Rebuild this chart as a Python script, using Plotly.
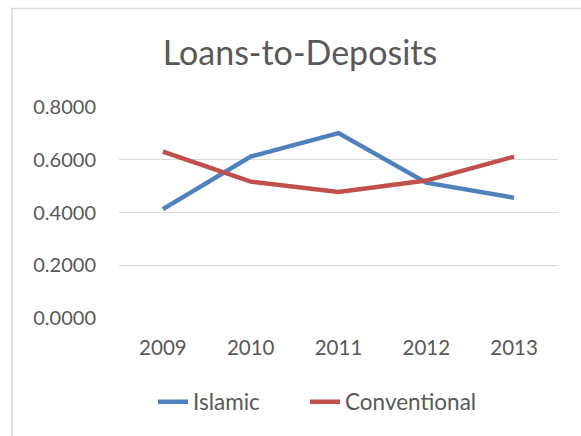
import plotly.graph_objects as go

years = ["2009", "2010", "2011", "2012", "2013"]
islamic = [0.413, 0.612, 0.701, 0.513, 0.456]
conventional = [0.631, 0.517, 0.478, 0.521, 0.612]
y_ticks = [0.0, 0.2, 0.4, 0.6, 0.8]

W, H = 581, 436
L, R, T, B = 119, 23, 107, 118
pw, ph = W - L - R, H - T - B

def px_x(x):
    return (x - L) / pw

def px_y(y):
    return (H - B - y) / ph

FONT = "Lato"
TXT = "#595959"

fig = go.Figure()
fig.add_trace(go.Scatter(x=years, y=islamic, mode="lines", name="Islamic",
                         legend="legend",
                         line=dict(color="#4F81BD", width=4.5)))
fig.add_trace(go.Scatter(x=years, y=conventional, mode="lines", name="Conventional",
                         legend="legend2",
                         line=dict(color="#C0504D", width=4.5)))

leg_common = dict(orientation="h", xanchor="left", y=px_y(402), yanchor="middle",
                  font=dict(size=22.5, color=TXT), bgcolor="rgba(0,0,0,0)")

fig.update_layout(
    width=W, height=H,
    margin=dict(l=L, r=R, t=T, b=B),
    paper_bgcolor="white", plot_bgcolor="white",
    font=dict(family=FONT, color=TXT, size=20),
    title=dict(text="Loans-to-Deposits", x=300 / W, xanchor="center",
               xref="container", y=1 - 53 / H, yanchor="middle", yref="container",
               font=dict(family=FONT, size=34, color=TXT)),
    showlegend=True,
    legend=dict(x=px_x(153), **leg_common),
    legend2=dict(x=px_x(305), **leg_common),
    xaxis=dict(type="category", range=[-0.5, 4.5], showgrid=False, zeroline=False,
               showline=False, ticks="", ticklabelstandoff=15,
               tickfont=dict(size=20.5, color=TXT)),
    yaxis=dict(range=[0, 0.8001], tickvals=y_ticks, tickformat=".4f",
               showgrid=True, gridcolor="#D9D9D9", gridwidth=1.3, zeroline=False,
               showline=False, ticks="", ticklabelstandoff=22,
               tickfont=dict(size=20, color=TXT)),
    shapes=[dict(type="rect", xref="paper", yref="paper",
                 x0=px_x(12), x1=px_x(620), y0=px_y(480), y1=px_y(8.5),
                 line=dict(color="#D9D9D9", width=1.5), fillcolor="rgba(0,0,0,0)",
                 layer="below")],
)

fig.write_html("out.html")
